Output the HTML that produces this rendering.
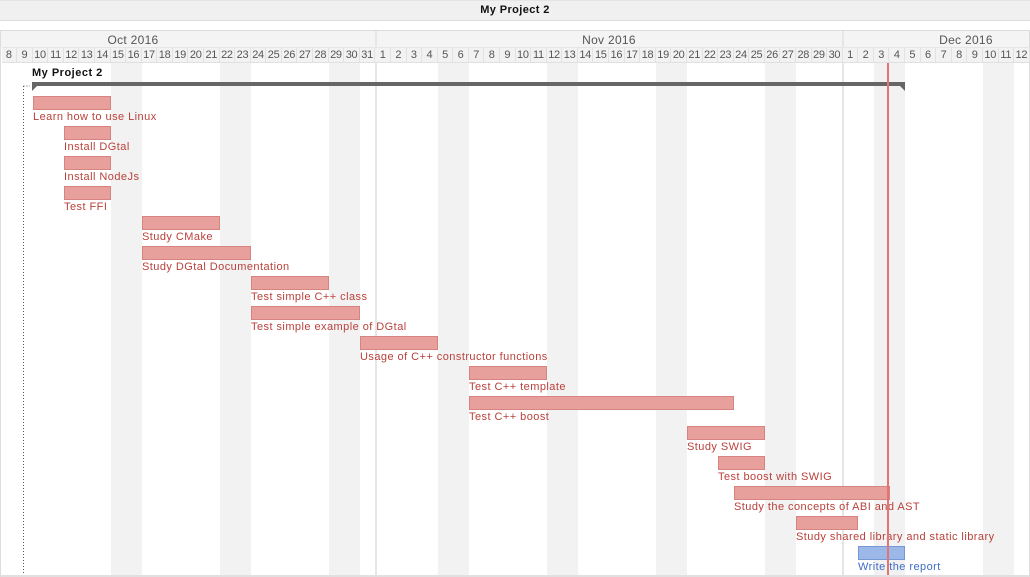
<!DOCTYPE html>
<html><head><meta charset="utf-8"><style>
*{margin:0;padding:0;box-sizing:border-box}
body{width:1030px;height:577px;overflow:hidden;background:#fff;font-family:"Liberation Sans",sans-serif;position:relative}
.a{position:absolute}
#days{position:absolute;left:1.5px;top:47px;height:16px;display:flex;background:#f2f2f2;border-bottom:1px solid #e0e0e0;border-top:1px solid #e6e6e6}
#days span{width:15.58px;flex:none;font-size:11px;color:#555;text-align:center;line-height:15px;border-right:1px solid #e2e2e2;letter-spacing:-0.3px}
.we{position:absolute;top:63px;height:512px;width:31.16px;background:#f2f2f2}
.bar{position:absolute;height:14px;background:#e8a09d;border:1px solid #d7837f}
.lb{position:absolute;font-size:11px;color:#b9403a;white-space:nowrap;letter-spacing:0.45px;margin-top:1px}
.ms{position:absolute;top:31px;height:544px;width:2px;background:#e6e6e6}
</style></head><body>
<div class="a" style="left:0;top:0;width:1030px;height:21px;background:#f0f0f0;border-bottom:1px solid #dcdcdc;border-top:1px solid #e4e4e4"></div>
<div class="a" style="left:0;top:4px;width:1030px;text-align:center;font-size:11px;font-weight:bold;color:#111;letter-spacing:0.4px">My Project 2</div>
<div class="a" style="left:0;top:21px;width:1030px;height:10px;background:#fff;border-bottom:1px solid #dcdcdc"></div>
<div class="a" style="left:0;top:31px;width:1030px;height:16px;background:#f4f4f4"></div>
<div class="a" style="left:0;top:575px;width:1030px;height:2px;background:#e0e0e0"></div>
<div class="a" style="left:0;top:31px;width:1px;height:546px;background:#ddd"></div>
<div class="a" style="left:1029px;top:31px;width:1px;height:546px;background:#ddd"></div>
<div class="a" style="left:93px;top:33px;width:80px;text-align:center;font-size:12px;color:#555;letter-spacing:0.3px">Oct 2016</div>
<div class="a" style="left:569px;top:33px;width:80px;text-align:center;font-size:12px;color:#555;letter-spacing:0.3px">Nov 2016</div>
<div class="a" style="left:926px;top:33px;width:80px;text-align:center;font-size:12px;color:#555;letter-spacing:0.3px">Dec 2016</div>
<div class="we" style="left:110.6px"></div>
<div class="we" style="left:219.6px"></div>
<div class="we" style="left:328.7px"></div>
<div class="we" style="left:437.7px"></div>
<div class="we" style="left:546.8px"></div>
<div class="we" style="left:655.9px"></div>
<div class="we" style="left:764.9px"></div>
<div class="we" style="left:874.0px"></div>
<div class="we" style="left:983.0px"></div>
<div class="ms" style="left:374.5px"></div>
<div class="ms" style="left:842px"></div>
<div id="days"><span>8</span><span>9</span><span>10</span><span>11</span><span>12</span><span>13</span><span>14</span><span>15</span><span>16</span><span>17</span><span>18</span><span>19</span><span>20</span><span>21</span><span>22</span><span>23</span><span>24</span><span>25</span><span>26</span><span>27</span><span>28</span><span>29</span><span>30</span><span>31</span><span>1</span><span>2</span><span>3</span><span>4</span><span>5</span><span>6</span><span>7</span><span>8</span><span>9</span><span>10</span><span>11</span><span>12</span><span>13</span><span>14</span><span>15</span><span>16</span><span>17</span><span>18</span><span>19</span><span>20</span><span>21</span><span>22</span><span>23</span><span>24</span><span>25</span><span>26</span><span>27</span><span>28</span><span>29</span><span>30</span><span>1</span><span>2</span><span>3</span><span>4</span><span>5</span><span>6</span><span>7</span><span>8</span><span>9</span><span>10</span><span>11</span><span>12</span></div>
<div class="a" style="left:32px;top:67px;font-size:11px;font-weight:bold;color:#111;letter-spacing:0.5px">My Project 2</div>
<div class="a" style="left:32px;top:82px;width:873px;height:4px;background:#666"></div>
<svg class="a" style="left:0;top:0" width="1030" height="577">
<polygon points="32,86 37,86 32,91" fill="#666"/>
<polygon points="905,86 900,86 905,91" fill="#666"/>
<line x1="23.5" y1="86" x2="23.5" y2="575" stroke="#555" stroke-width="1" stroke-dasharray="1,2"/>
<line x1="23.5" y1="86" x2="30" y2="86" stroke="#555" stroke-width="1" stroke-dasharray="1,2"/>
</svg>
<div class="bar" style="left:32.7px;top:96px;width:78px"></div><div class="lb" style="left:33px;top:110px">Learn how to use Linux</div>
<div class="bar" style="left:63.8px;top:126px;width:47px"></div><div class="lb" style="left:64px;top:140px">Install DGtal</div>
<div class="bar" style="left:63.8px;top:156px;width:47px"></div><div class="lb" style="left:64px;top:170px">Install NodeJs</div>
<div class="bar" style="left:63.8px;top:186px;width:47px"></div><div class="lb" style="left:64px;top:200px">Test FFI</div>
<div class="bar" style="left:141.7px;top:216px;width:78px"></div><div class="lb" style="left:142px;top:230px">Study CMake</div>
<div class="bar" style="left:141.7px;top:246px;width:109px"></div><div class="lb" style="left:142px;top:260px">Study DGtal Documentation</div>
<div class="bar" style="left:250.8px;top:276px;width:78px"></div><div class="lb" style="left:251px;top:290px">Test simple C++ class</div>
<div class="bar" style="left:250.8px;top:306px;width:109px"></div><div class="lb" style="left:251px;top:320px">Test simple example of DGtal</div>
<div class="bar" style="left:359.8px;top:336px;width:78px"></div><div class="lb" style="left:360px;top:350px">Usage of C++ constructor functions</div>
<div class="bar" style="left:468.9px;top:366px;width:78px"></div><div class="lb" style="left:469px;top:380px">Test C++ template</div>
<div class="bar" style="left:468.9px;top:396px;width:265px"></div><div class="lb" style="left:469px;top:410px">Test C++ boost</div>
<div class="bar" style="left:687px;top:426px;width:78px"></div><div class="lb" style="left:687px;top:440px">Study SWIG</div>
<div class="bar" style="left:718px;top:456px;width:47px"></div><div class="lb" style="left:718px;top:470px">Test boost with SWIG</div>
<div class="bar" style="left:733.8px;top:486px;width:156px"></div><div class="lb" style="left:734px;top:500px">Study the concepts of ABI and AST</div>
<div class="bar" style="left:796px;top:516px;width:62px"></div><div class="lb" style="left:796px;top:530px">Study shared library and static library</div>
<div class="bar" style="left:857.5px;top:546px;width:47px;background:#9bb8e8;border-color:#7399d6"></div><div class="lb" style="left:858px;top:560px;color:#3d6cc5">Write the report</div>
<div class="a" style="left:887px;top:63px;width:2px;height:512px;background:#e57373"></div>
</body></html>
